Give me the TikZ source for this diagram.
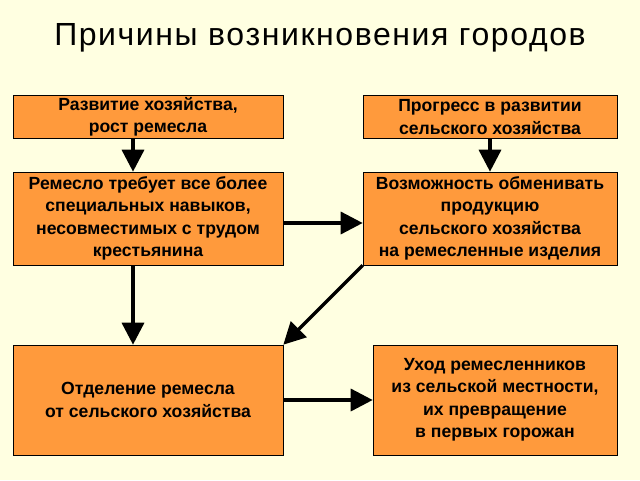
\documentclass[tikz,border=0pt]{standalone}
\usepackage{fontspec}
\setmainfont{Liberation Sans}
\newfontfamily\titlefont[LetterSpace=5]{Liberation Sans}
\usetikzlibrary{arrows.meta}
\definecolor{bg}{HTML}{FFFFE1}
\definecolor{boxfill}{HTML}{FF9A3C}
\begin{document}
\begin{tikzpicture}[x=1pt,y=-1pt,
  box/.style={draw=black, line width=0.6pt, fill=boxfill, align=center, font=\bfseries\fontsize{17.6}{22.5}\selectfont, inner sep=0pt},
  conn/.style={line width=3.5pt, -{Triangle[length=22pt,width=22pt]}}]
\fill[bg] (0,0) rectangle (640,480);
\useasboundingbox (0,0) rectangle (640,480);
\node (title) at (320,38) {\titlefont\fontsize{32}{38}\selectfont Причины возникновения городов};
\node[box, minimum width=270pt, minimum height=43pt] (b1) at (148,117) {Развитие хозяйства,\\рост ремесла};
\node[box, minimum width=254pt, minimum height=43pt] (b2) at (490,117) {Прогресс в развитии\\сельского хозяйства};
\node[box, minimum width=270pt, minimum height=93pt] (b3) at (148,218.5) {Ремесло требует все более\\специальных навыков,\\несовместимых с трудом\\крестьянина};
\node[box, minimum width=254pt, minimum height=93pt] (b4) at (490,218.5) {Возможность обменивать\\продукцию\\сельского хозяйства\\на ремесленные изделия};
\node[box, minimum width=270pt, minimum height=110pt] (b5) at (148,400) {Отделение ремесла\\от сельского хозяйства};
\node[box, minimum width=244pt, minimum height=110pt] (b6) at (495,400) {Уход ремесленников\\из сельской местности,\\их превращение\\в первых горожан};
\draw[conn] (b1.south -| 133,0) -- (b3.north -| 133,0);
\draw[conn] (b2.south) -- (b4.north);
\draw[conn] (b3.east |- 0,223) -- (b4.west |- 0,223);
\draw[conn] (b3.south -| 133,0) -- (b5.north -| 133,0);
\draw[conn] (b4.south west) -- (b5.north east);
\draw[conn] (b5.east) -- (b6.west);
\end{tikzpicture}
\end{document}
